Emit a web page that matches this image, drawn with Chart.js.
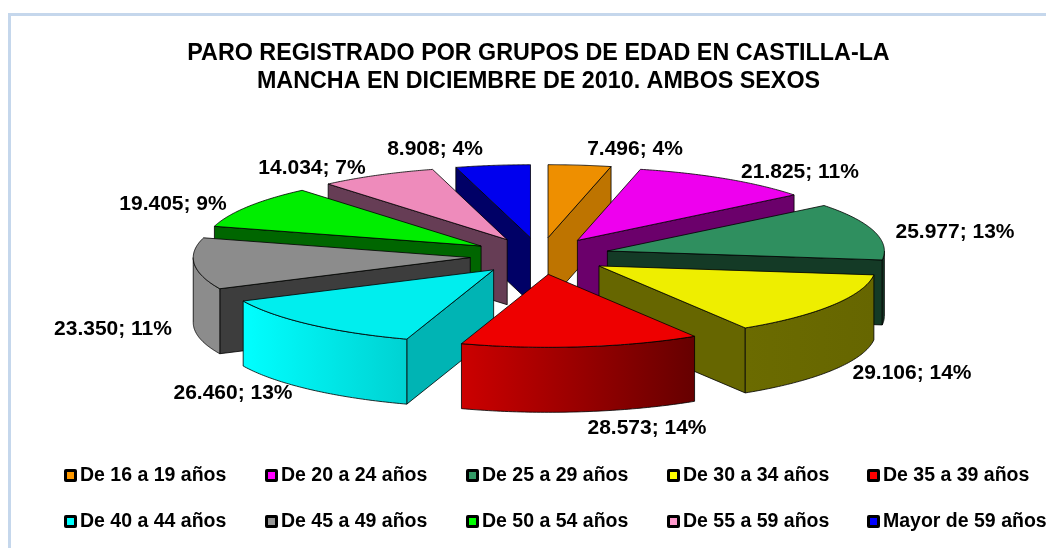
<!DOCTYPE html>
<html><head><meta charset="utf-8">
<style>html,body{margin:0;padding:0;background:#fff}#w{width:1046px;height:548px;position:relative}</style>
<script src="https://cdn.jsdelivr.net/npm/chart.js@4"></script></head>
<body><div id="w"><canvas id="c" width="1046" height="548"></canvas></div>
<script>
const categories = ['De 16 a 19 años','De 20 a 24 años','De 25 a 29 años','De 30 a 34 años','De 35 a 39 años','De 40 a 44 años','De 45 a 49 años','De 50 a 54 años','De 55 a 59 años','Mayor de 59 años'];
const values = [7496,21825,25977,29106,28573,26460,23350,19405,14034,8908];
const titleLines = ['PARO REGISTRADO POR GRUPOS DE EDAD EN CASTILLA-LA','MANCHA EN DICIEMBRE DE 2010. AMBOS SEXOS'];
const legendColors = ['#FF9900','#FF00FF','#339966','#FFFF00','#FF0000','#00FFFF','#969696','#00FF00','#FF99CC','#0000FF'];
const topColors = ['#EE8F00','#EE00EE','#2F8F5F','#EEEE00','#EE0000','#00EEEE','#8C8C8C','#00EE00','#EE8BBB','#0000EE'];
const cutColors = ['#BE7400','#6B006B','#143A26','#666600','#660000','#00B4B4','#3D3D3D','#006600','#663D55','#000066'];
const arcLight = ['#BE7400','#6B006B','#143A26','#6B6B00','#CC0000','#00FFFF','#8C8C8C','#006600','#663D55','#000066'];
const arcDark = ['#BE7400','#6B006B','#143A26','#666600','#660000','#00D2D2','#8C8C8C','#006600','#663D55','#000066'];
const drawOrder = [0,9,8,1,7,2,6,3,5,4];
const labelCenters = [[635,149],[800,172],[955,232],[912,373],[647,428],[233,393],[113,329],[173,204],[312,168],[435,149]];
const legendCols = [64,265,466,667,867];
const legendRows = [476,522];

const CX=540, CY=256, RADIUS=277, RY=73, DEPTH=65, EXPLODE=70;
const FONT='"Liberation Sans", Arial, sans-serif';
const squash=RY/RADIUS;

function fmt(v){return String(v).replace(/\B(?=(\d{3})+$)/g,'.');}
const total=values.reduce((a,b)=>a+b,0);

const pie3d={
  id:'pie3d',
  beforeDatasetsDraw(chart){
    const ctx=chart.ctx, arcs=chart.getDatasetMeta(0).data;
    const proj=(arc,rad,ang)=>{
      const mid=(arc.startAngle+arc.endAngle)/2;
      return [CX+Math.cos(mid)*EXPLODE+Math.cos(ang)*rad, CY+(Math.sin(mid)*EXPLODE+Math.sin(ang)*rad)*squash];
    };
    const quad=(pts,fill)=>{
      ctx.beginPath();pts.forEach((p,i)=>i?ctx.lineTo(p[0],p[1]):ctx.moveTo(p[0],p[1]));ctx.closePath();
      ctx.fillStyle=fill;ctx.fill();ctx.stroke();
    };
    drawOrder.forEach(i=>{
      const arc=arcs[i], s=arc.startAngle, e=arc.endAngle, R=arc.outerRadius, mid=(s+e)/2;
      const tip=proj(arc,0,s), ps=proj(arc,R,s), pe=proj(arc,R,e);
      const down=p=>[p[0],p[1]+DEPTH];
      ctx.save();
      ctx.lineWidth=1;ctx.strokeStyle='rgba(0,0,0,0.8)';ctx.lineJoin='round';
      // cut faces turned towards the viewer
      if(Math.sin(s+Math.PI/2)<0) quad([tip,ps,down(ps),down(tip)],cutColors[i]);
      if(Math.sin(e+Math.PI/2)>0) quad([tip,pe,down(pe),down(tip)],cutColors[i]);
      // curved outer wall (front half only)
      const a0=Math.max(s,0), a1=Math.min(e,Math.PI);
      if(a1>a0){
        const top=[];const n=60;
        for(let k=0;k<=n;k++) top.push(proj(arc,R,a0+(a1-a0)*k/n));
        const pts=top.concat(top.slice().reverse().map(down));
        const xs=top.map(p=>p[0]);
        const g=ctx.createLinearGradient(Math.min(...xs),0,Math.max(...xs),0);
        g.addColorStop(0,arcLight[i]);g.addColorStop(1,arcDark[i]);
        quad(pts,g);
      }
      ctx.restore();
      // top face: the library's own arc under the tilt transform, pulled out along its bisector
      ctx.save();
      ctx.translate(CX,CY);ctx.scale(1,squash);
      ctx.translate(Math.cos(mid)*EXPLODE,Math.sin(mid)*EXPLODE);
      ctx.translate(-arc.x,-arc.y);
      arc.draw(ctx);
      ctx.restore();
      // outline in screen space
      ctx.save();
      ctx.lineWidth=1;ctx.strokeStyle='rgba(0,0,0,0.8)';ctx.lineJoin='round';
      ctx.beginPath();ctx.moveTo(tip[0],tip[1]);
      for(let k=0;k<=60;k++){const p=proj(arc,R,s+(e-s)*k/60);ctx.lineTo(p[0],p[1]);}
      ctx.closePath();ctx.stroke();
      ctx.restore();
    });
    return false;
  },
  afterDraw(chart){
    const ctx=chart.ctx;
    ctx.save();
    // chart frame
    ctx.fillStyle='#C5D7EC';
    ctx.fillRect(8,13,3,535);
    ctx.fillRect(8,13,1038,3);
    // data labels
    ctx.fillStyle='#000';
    ctx.font='bold 21px '+FONT;
    ctx.textAlign='center';ctx.textBaseline='middle';
    values.forEach((v,i)=>{
      ctx.fillText(fmt(v)+'; '+Math.round(v/total*100)+'%',labelCenters[i][0],labelCenters[i][1]);
    });
    // legend
    ctx.font='bold 19.5px '+FONT;
    ctx.textAlign='left';
    categories.forEach((c,i)=>{
      const x=legendCols[i%5], y=legendRows[Math.floor(i/5)];
      ctx.fillStyle='#000';
      ctx.beginPath();ctx.roundRect(x,y-7,13,13,2);ctx.fill();
      ctx.fillStyle=legendColors[i];
      ctx.fillRect(x+3,y-4,7,7);
      ctx.fillStyle='#000';
      ctx.fillText(c,x+16,y);
    });
    ctx.restore();
  }
};

new Chart(document.getElementById('c'),{
  type:'pie',
  data:{labels:categories,datasets:[{data:values,backgroundColor:topColors,borderWidth:0,radius:RADIUS}]},
  options:{
    responsive:false,animation:false,
    layout:{padding:{left:31,top:40}},
    plugins:{
      legend:{display:false},
      tooltip:{enabled:false},
      title:{display:true,text:titleLines,color:'#000',font:{family:FONT,size:23.3,weight:'bold',lineHeight:1.2},padding:0}
    }
  },
  plugins:[pie3d]
});
</script></body></html>
